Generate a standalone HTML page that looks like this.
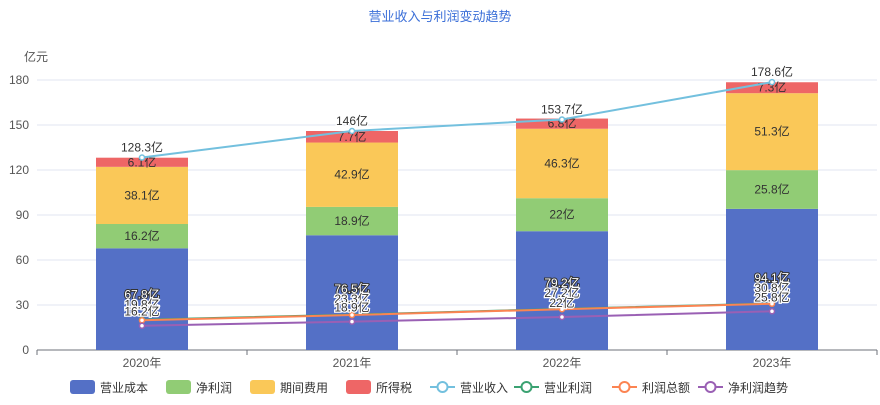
<!DOCTYPE html>
<html><head><meta charset="utf-8"><style>
body{margin:0;background:#fff;font-family:"Liberation Sans","Noto Sans CJK SC",sans-serif}
svg text{font-family:"Liberation Sans","Noto Sans CJK SC",sans-serif}
</style></head><body>
<svg id="c" width="880" height="400"></svg>
<script>
const categories=["2020年","2021年","2022年","2023年"];
const cost=[67.8,76.5,79.2,94.1];
const netProfit=[16.2,18.9,22,25.8];
const expense=[38.1,42.9,46.3,51.3];
const tax=[6.1,7.7,6.8,7.3];
const revenue=[128.3,146,153.7,178.6];
const opProfit=[20.2,23.6,27.4,31];
const totalProfit=[19.8,23.3,27.2,30.8];
const netTrend=[16.2,18.9,22,25.8];
const yTicks=[0,30,60,90,120,150,180];
const NS="http://www.w3.org/2000/svg";
const svg=document.getElementById('c');
const X0=37,X1=877,Y0=350,Y1=80;
const band=(X1-X0)/categories.length;
const xc=i=>X0+band*(i+0.5);
const y=v=>Y0-(v-0)/180*(Y0-Y1);
function el(t,a,p){const e=document.createElementNS(NS,t);for(const k in a)e.setAttribute(k,a[k]);(p||svg).appendChild(e);return e;}
let t=el('text',{x:440,y:21,'text-anchor':'middle','font-size':13,fill:'#3b6fd8'});t.textContent='营业收入与利润变动趋势';


t=el('text',{x:24,y:61,'font-size':12,fill:'#555'});t.textContent='亿元';


yTicks.forEach(v=>{
 if(v>0){const g=el('line',{x1:X0,x2:X1,y1:y(v),y2:y(v),stroke:'#e0e6f1'});
 
 }
 const l=el('text',{x:29,y:y(v)+4,'text-anchor':'end','font-size':12,fill:'#555'});l.textContent=v;
 
 
});
el('line',{x1:X0,x2:X1,y1:Y0,y2:Y0,stroke:'#6e7079'});
categories.forEach((c,i)=>{
 el('line',{x1:X0+band*i,x2:X0+band*i,y1:Y0,y2:Y0+5,stroke:'#6e7079'});
 const l=el('text',{x:xc(i),y:Y0+17,'text-anchor':'middle','font-size':12,fill:'#555'});l.textContent=c;
 
 
});
el('line',{x1:X1,x2:X1,y1:Y0,y2:Y0+5,stroke:'#6e7079'});
const stacks=[[cost,'#5470c6','cost'],[netProfit,'#91cc75','net-profit'],[expense,'#fac858','expense'],[tax,'#ee6666','tax']];
const bw=92;
categories.forEach((c,i)=>{
 let base=0;
 stacks.forEach(([arr,col,nm])=>{
  const v=arr[i];
  const r=el('rect',{x:xc(i)-bw/2,y:y(base+v),width:bw,height:y(base)-y(base+v),fill:col});
  
  
  if(nm!=='cost'){const l=el('text',{x:xc(i),y:(y(base)+y(base+v))/2+4,'text-anchor':'middle','font-size':12,fill:'#333'});l.textContent=v+'亿';
  
  }
  base+=v;
 });
});
function line(arr,col,nm,labelDy,lab){
 const p=el('polyline',{points:arr.map((v,i)=>xc(i)+','+y(v)).join(' '),fill:'none',stroke:col,'stroke-width':2});
 
 
 arr.forEach((v,i)=>{
  const d=el('circle',{cx:xc(i),cy:y(v),r:2.5,fill:'#fff',stroke:col,'stroke-width':1.5});
  
  
  if(lab){const l=el('text',{x:xc(i),y:y(v)+labelDy,'text-anchor':'middle','font-size':12,fill:'#333',stroke:'#fff','stroke-width':2.5,'paint-order':'stroke'});l.textContent=v+'亿';
  
  }
 });
}
categories.forEach((c,i)=>{const l=el('text',{x:xc(i),y:y(totalProfit[i])-22,'text-anchor':'middle','font-size':12,fill:'#fff',stroke:'#333','stroke-width':2,'paint-order':'stroke'});l.textContent=cost[i]+'亿';
 
 });
line(revenue,'#73c0de','revenue',-6,true);
line(opProfit,'#3ba272','op-profit',-14,false);
line(totalProfit,'#fc8452','total-profit',-12,true);
line(netTrend,'#9a60b4','net-trend',-10,true);
const legend=[['营业成本','#5470c6',0],['净利润','#91cc75',0],['期间费用','#fac858',0],['所得税','#ee6666',0],['营业收入','#73c0de',1],['营业利润','#3ba272',1],['利润总额','#fc8452',1],['净利润趋势','#9a60b4',1]];
const lx=[70,166,250,346,430,514,612,698];
legend.forEach(([n,col,isL],i)=>{
 const g=el('g',{});
 
 
 if(!isL)el('rect',{x:lx[i],y:380,width:25,height:14,rx:3,fill:col},g);
 else{el('line',{x1:lx[i],x2:lx[i]+25,y1:387,y2:387,stroke:col,'stroke-width':2},g);el('circle',{cx:lx[i]+12.5,cy:387,r:5,fill:'#fff',stroke:col,'stroke-width':2},g);}
 const l=el('text',{x:lx[i]+30,y:392,'font-size':12,fill:'#333'},g);l.textContent=n;
});
</script>
</body></html>
